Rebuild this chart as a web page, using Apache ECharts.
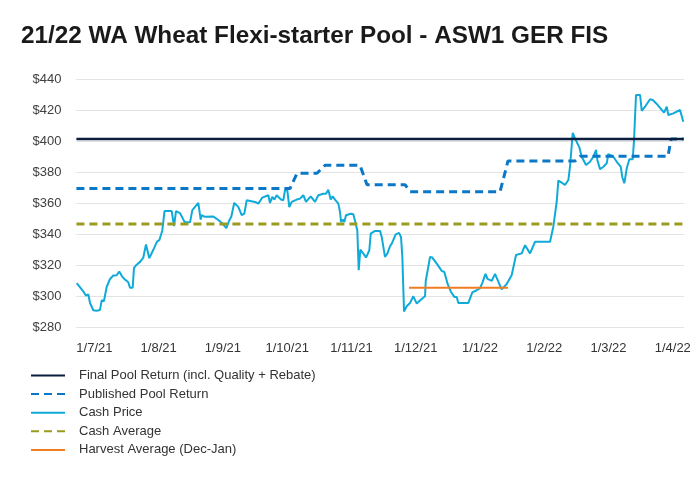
<!DOCTYPE html>
<html>
<head>
<meta charset="utf-8">
<script src="https://cdn.jsdelivr.net/npm/echarts@6/dist/echarts.min.js"></script>
<style>
  html, body { margin: 0; padding: 0; background: #ffffff; }
  #chart { width: 700px; height: 478px; }
</style>
</head>
<body>
<div id="chart"></div>
<script>
// X positions are in "month label" units: 0 = 1/7/21, 1 = 1/8/21, ... 9 = 1/4/22
const tickLabels = ['1/7/21', '1/8/21', '1/9/21', '1/10/21', '1/11/21', '1/12/21', '1/1/22', '1/2/22', '1/3/22', '1/4/22'];
const tickPositions = [0, 1, 2, 3, 4, 5, 6, 7, 8, 9];
const xStart = -0.28;
const xEnd = 9.17;

const seriesNames = [
  'Final Pool Return (incl. Quality + Rebate)',
  'Published Pool Return',
  'Cash Price',
  'Cash Average',
  'Harvest Average (Dec-Jan)'
];

const finalPoolReturn = [[xStart, 401.5], [xEnd, 401.5]];

const publishedPoolReturn = [
  [xStart, 369.5], [3.044, 369.5], [3.153, 379.4], [3.464, 379.4], [3.589, 384.5],
  [4.133, 384.5], [4.242, 372.0], [4.833, 372.0], [4.911, 367.5], [6.312, 367.5],
  [6.436, 387.3], [7.479, 387.3], [7.557, 390.3], [8.926, 390.3], [8.973, 401.5],
  [xEnd, 401.5]
];

const cashAverage = [[xStart, 346.6], [xEnd, 346.6]];

const harvestAverage = [[4.896, 305.5], [6.436, 305.5]];

const cashPrice = [
  [-0.275, 308.5], [-0.173, 303.2], [-0.131, 300.4], [-0.095, 301.3], [-0.068, 295.7],
  [-0.017, 291.0], [0.036, 290.7], [0.087, 291.2], [0.114, 297.4], [0.149, 297.0],
  [0.191, 306.0], [0.243, 311.2], [0.294, 313.4], [0.347, 313.6], [0.387, 316.0],
  [0.430, 312.9], [0.476, 310.8], [0.528, 309.0], [0.554, 305.5], [0.596, 305.5],
  [0.616, 318.3], [0.658, 320.4], [0.710, 322.2], [0.761, 325.0], [0.803, 333.4],
  [0.854, 324.6], [0.917, 330.0], [0.974, 335.3], [1.010, 336.2], [1.057, 342.5],
  [1.091, 355.0], [1.203, 355.0], [1.239, 345.3], [1.270, 355.0], [1.332, 353.7],
  [1.402, 348.0], [1.488, 347.7], [1.524, 355.6], [1.617, 360.3], [1.654, 349.5],
  [1.670, 352.4], [1.721, 351.3], [1.850, 351.5], [1.869, 352.0], [1.903, 350.0],
  [1.981, 347.5], [2.053, 344.0], [2.098, 348.9], [2.130, 351.3], [2.177, 360.3],
  [2.239, 357.7], [2.292, 352.3], [2.333, 353.3], [2.370, 361.9], [2.499, 360.9],
  [2.551, 359.8], [2.613, 363.7], [2.706, 365.2], [2.733, 360.2], [2.768, 364.1],
  [2.800, 362.4], [2.837, 365.2], [2.904, 362.4], [2.940, 362.0], [2.966, 368.6],
  [3.002, 368.4], [3.033, 357.6], [3.070, 360.9], [3.148, 362.4], [3.200, 363.0],
  [3.251, 365.2], [3.293, 360.9], [3.366, 364.5], [3.433, 360.9], [3.484, 365.2],
  [3.562, 366.2], [3.604, 366.2], [3.640, 368.8], [3.677, 362.4], [3.708, 364.5],
  [3.744, 362.4], [3.796, 359.8], [3.822, 354.4], [3.838, 348.0], [3.864, 349.5],
  [3.889, 348.0], [3.915, 352.3], [3.989, 353.3], [4.029, 352.9], [4.060, 348.0],
  [4.091, 342.6], [4.113, 316.8], [4.138, 330.1], [4.185, 327.5], [4.227, 325.0],
  [4.278, 329.7], [4.300, 340.4], [4.367, 342.2], [4.445, 342.2], [4.471, 338.3],
  [4.522, 325.4], [4.558, 327.5], [4.600, 332.3], [4.627, 334.0], [4.689, 340.0],
  [4.740, 340.9], [4.771, 338.3], [4.792, 325.4], [4.818, 290.2], [4.860, 293.6],
  [4.911, 295.7], [4.938, 295.3], [4.963, 300.0], [5.016, 295.3], [5.083, 297.9],
  [5.145, 300.0], [5.156, 309.9], [5.187, 309.9], [5.223, 325.4], [5.258, 325.0],
  [5.327, 321.1], [5.405, 316.4], [5.445, 315.7], [5.498, 307.8], [5.549, 302.8],
  [5.601, 299.6], [5.638, 299.6], [5.663, 295.7], [5.819, 295.7], [5.881, 302.5],
  [5.949, 303.9], [6.001, 305.2], [6.040, 309.0], [6.086, 314.5], [6.117, 311.2],
  [6.183, 310.0], [6.234, 314.5], [6.286, 309.4], [6.338, 304.5], [6.416, 307.9],
  [6.494, 313.7], [6.561, 326.6], [6.650, 327.7], [6.701, 333.0], [6.779, 327.7],
  [6.857, 335.2], [6.908, 335.2], [6.934, 334.2], [6.986, 335.2], [7.090, 335.2],
  [7.141, 344.9], [7.194, 361.0], [7.219, 374.6], [7.272, 373.3], [7.323, 371.8],
  [7.375, 375.0], [7.401, 383.6], [7.443, 405.5], [7.479, 401.9], [7.546, 396.1],
  [7.583, 390.0], [7.608, 390.0], [7.650, 384.7], [7.712, 386.8], [7.764, 390.0],
  [7.806, 394.4], [7.826, 388.0], [7.868, 382.0], [7.920, 383.6], [7.972, 385.8],
  [7.997, 391.8], [8.075, 390.0], [8.128, 386.8], [8.190, 383.6], [8.215, 376.8],
  [8.246, 372.9], [8.284, 382.6], [8.324, 388.4], [8.377, 388.4], [8.397, 400.8],
  [8.428, 429.9], [8.491, 429.9], [8.517, 419.7], [8.568, 422.3], [8.646, 427.1],
  [8.688, 426.6], [8.751, 424.1], [8.864, 418.5], [8.906, 422.3], [8.931, 417.0],
  [9.009, 418.0], [9.113, 420.2], [9.140, 419.7], [9.164, 412.6]
];

const yMin = 280, yMax = 440, yStep = 20;

const chart = echarts.init(document.getElementById('chart'), null, { renderer: 'canvas' });

const font = 'Liberation Sans, Arial, Helvetica, sans-serif';

chart.setOption({
  animation: false,
  backgroundColor: '#ffffff',
  title: {
    text: '21/22 WA Wheat Flexi-starter Pool - ASW1 GER FIS',
    left: 16,
    top: 19,
    textStyle: { fontFamily: font, fontSize: 24.3, fontWeight: 'bold', color: '#1a1a1a' }
  },
  legend: {
    orient: 'vertical',
    left: 25,
    top: 364,
    itemWidth: 34,
    itemHeight: 14,
    itemGap: 5.6,
    data: seriesNames,
    itemStyle: { opacity: 0 },
    textStyle: { fontFamily: font, fontSize: 13, color: '#333333', padding: [0, 0, 0, 9] }
  },
  grid: {
    left: 76.4,
    right: 16.3,
    top: 79.3,
    bottom: 150.7,
    containLabel: false,
    outerBoundsMode: 'none'
  },
  xAxis: {
    type: 'value',
    min: xStart,
    max: xEnd,
    axisLine: { show: false },
    axisTick: { show: false },
    splitLine: { show: false },
    axisLabel: {
      customValues: tickPositions,
      margin: 15,
      fontFamily: font,
      fontSize: 13,
      color: '#333333',
      formatter: function (v) { return tickLabels[Math.round(v)]; }
    }
  },
  yAxis: {
    type: 'value',
    min: yMin,
    max: yMax,
    interval: yStep,
    axisLine: { show: false },
    axisTick: { show: false },
    splitLine: { lineStyle: { color: '#e3e3e3', width: 1 } },
    axisLabel: {
      margin: 15,
      fontFamily: font,
      fontSize: 13,
      color: '#404040',
      formatter: function (v) { return '$' + v; }
    }
  },
  series: [
    {
      name: seriesNames[0], type: 'line', data: finalPoolReturn, symbol: 'none', z: 4,
      lineStyle: { color: '#0b1d3d', width: 2.5 }, itemStyle: { color: '#0b1d3d' }
    },
    {
      name: seriesNames[1], type: 'line', data: publishedPoolReturn, symbol: 'none', z: 3,
      lineStyle: { color: '#0a78c6', width: 3, type: [8, 5] }, itemStyle: { color: '#0a78c6' }
    },
    {
      name: seriesNames[2], type: 'line', data: cashPrice, symbol: 'none', z: 2,
      lineStyle: { color: '#10aad9', width: 2 }, itemStyle: { color: '#10aad9' }
    },
    {
      name: seriesNames[3], type: 'line', data: cashAverage, symbol: 'none', z: 3,
      lineStyle: { color: '#9a9b1f', width: 3, type: [8, 5] }, itemStyle: { color: '#9a9b1f' }
    },
    {
      name: seriesNames[4], type: 'line', data: harvestAverage, symbol: 'none', z: 4,
      lineStyle: { color: '#f07d22', width: 2 }, itemStyle: { color: '#f07d22' }
    }
  ]
});
</script>
</body>
</html>
